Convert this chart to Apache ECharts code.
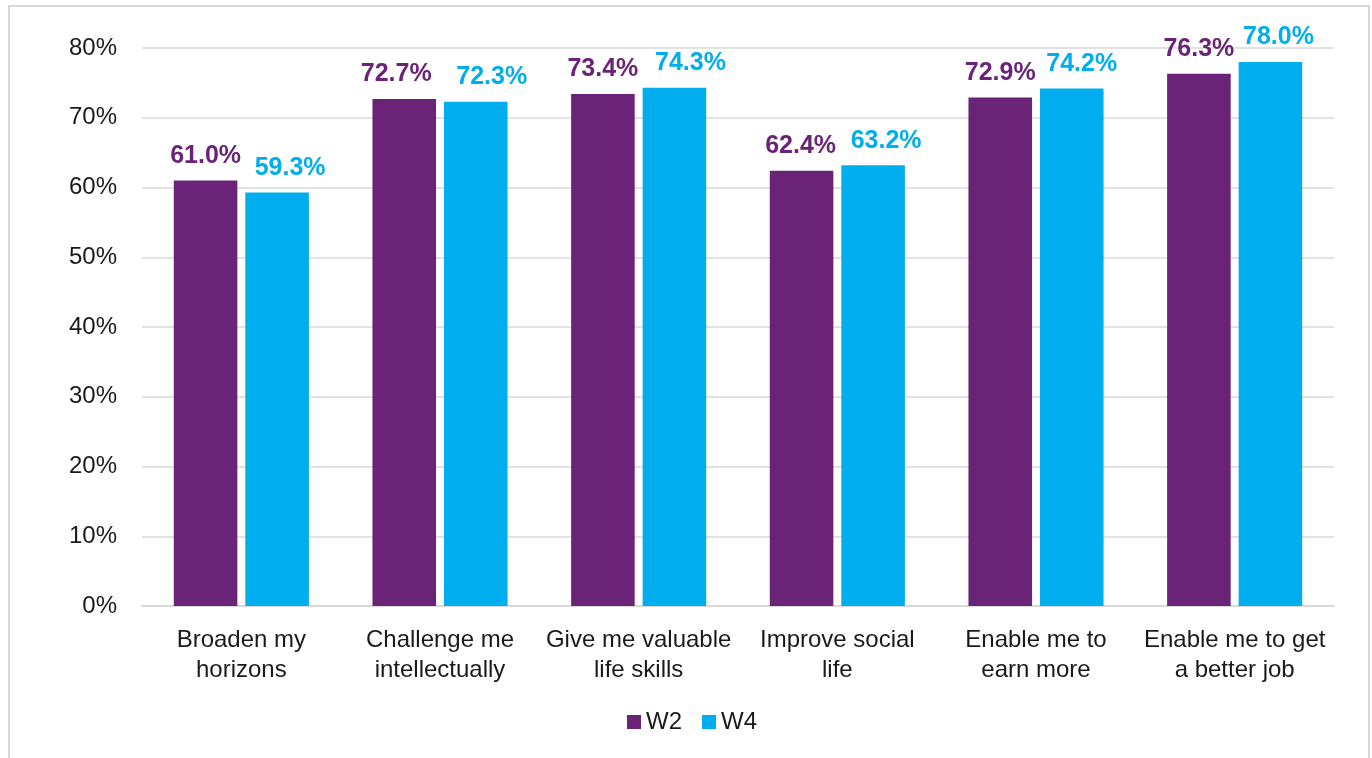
<!DOCTYPE html>
<html>
<head>
<meta charset="utf-8">
<script src="https://cdn.jsdelivr.net/npm/echarts@6/dist/echarts.min.js"></script>
<style>
  html, body { margin: 0; padding: 0; background: #fff; }
  #chart { width: 1372px; height: 758px; }
</style>
</head>
<body>
<div id="chart"></div>
<script>
// categories and values
var categories = [
  'Broaden my\nhorizons',
  'Challenge me\nintellectually',
  'Give me valuable\nlife skills',
  'Improve social\nlife',
  'Enable me to\nearn more',
  'Enable me to get\na better job'
];
var w2 = [61.0, 72.7, 73.4, 62.4, 72.9, 76.3];
var w4 = [59.3, 72.3, 74.3, 63.2, 74.2, 78.0];
var seriesNames = ['W2', 'W4'];

var purple = '#6b2378';
var blue = '#00adee';
var font = '"Liberation Sans", Arial, sans-serif';

// the labels in the original were nudged sideways by hand
var nudgeW2 = [0, -8, 0, -1, 0, 0];
var nudgeW4 = [13, 16, 16, 13, 10, 8];

var chart = echarts.init(document.getElementById('chart'));

function barLabel(color) {
  return {
    show: true,
    position: 'top',
    distance: 12,
    color: color,
    fontFamily: font,
    fontWeight: 'bold',
    fontSize: 25,
    formatter: function (p) { return p.value.toFixed(1) + '%'; }
  };
}

function withNudge(values, nudge) {
  return values.map(function (v, i) {
    return { value: v, label: { offset: [nudge[i], 0] } };
  });
}

chart.setOption({
  animation: false,
  graphic: [{
    type: 'rect',
    shape: { x: 9, y: 6, width: 1360, height: 800 },
    style: { fill: 'none', stroke: '#d9d9d9', lineWidth: 2 },
    silent: true
  }],
  grid: { left: 142, right: 38, top: 48, bottom: 152 },
  legend: {
    data: seriesNames,
    left: 622,
    top: 705,
    icon: 'rect',
    itemWidth: 14,
    itemHeight: 14,
    itemGap: 20,
    textStyle: { fontFamily: font, fontSize: 24, color: '#1a1a1a' }
  },
  xAxis: {
    type: 'category',
    data: categories,
    axisLine: { lineStyle: { color: '#d9d9d9', width: 2 } },
    axisTick: { show: false },
    axisLabel: {
      fontFamily: font,
      fontSize: 24,
      color: '#1a1a1a',
      lineHeight: 30,
      margin: 19,
      interval: 0
    }
  },
  yAxis: {
    type: 'value',
    min: 0,
    max: 80,
    interval: 10,
    axisLine: { show: false },
    axisTick: { show: false },
    splitLine: { lineStyle: { color: '#d9d9d9', width: 1.5 } },
    axisLabel: {
      fontFamily: font,
      fontSize: 24,
      color: '#1a1a1a',
      margin: 25,
      formatter: '{value}%'
    }
  },
  series: [{
    name: seriesNames[0],
    type: 'bar',
    data: withNudge(w2, nudgeW2),
    barWidth: '32%',
    barGap: '12.5%',
    itemStyle: { color: purple },
    label: barLabel(purple)
  }, {
    name: seriesNames[1],
    type: 'bar',
    data: withNudge(w4, nudgeW4),
    barWidth: '32%',
    itemStyle: { color: blue },
    label: barLabel(blue)
  }]
});
</script>
</body>
</html>
